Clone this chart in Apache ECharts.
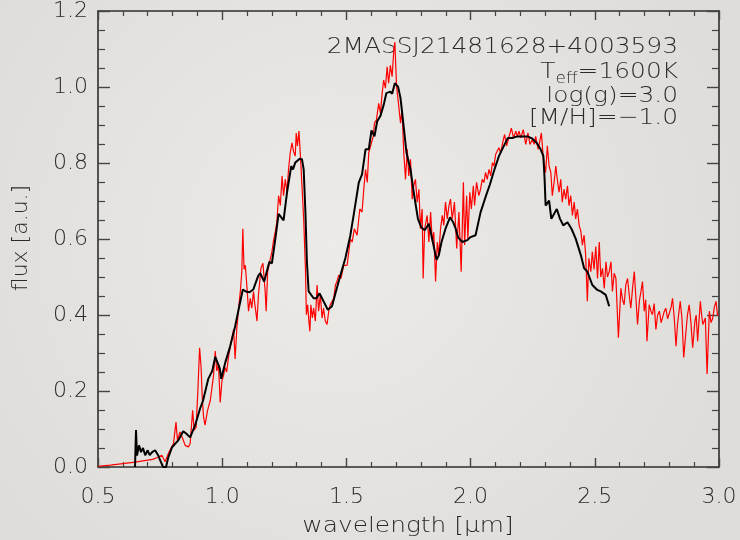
<!DOCTYPE html>
<html>
<head>
<meta charset="utf-8">
<script src="https://cdn.jsdelivr.net/npm/echarts@6/dist/echarts.min.js"></script>
<style>
html,body{margin:0;padding:0;background:#e8e6e3;}
#chart{width:740px;height:540px;}
</style>
</head>
<body>
<div id="chart"></div>
<script>
// ---- data ----
var xTicks = [0.5, 1.0, 1.5, 2.0, 2.5, 3.0];
var yTicks = [0.0, 0.2, 0.4, 0.6, 0.8, 1.0, 1.2];

var modelWave = [0.649,0.653,0.657,0.665,0.673,0.681,0.69,0.7,0.708,0.718,0.73,0.742,0.75,0.762,0.774,0.782,0.798,0.823,0.843,0.855,0.871,0.891,0.911,0.923,0.944,0.96,0.972,0.98,0.99,0.996,1.012,1.032,1.052,1.073,1.083,1.095,1.11,1.125,1.135,1.145,1.153,1.169,1.19,1.2,1.214,1.227,1.24,1.247,1.261,1.278,1.285,1.294,1.312,1.321,1.328,1.335,1.341,1.348,1.368,1.379,1.392,1.408,1.425,1.442,1.456,1.476,1.496,1.516,1.529,1.55,1.563,1.577,1.59,1.601,1.613,1.624,1.637,1.65,1.661,1.677,1.684,1.695,1.708,1.718,1.729,1.742,1.758,1.771,1.788,1.801,1.815,1.832,1.845,1.863,1.872,1.883,1.899,1.917,1.93,1.94,1.949,1.967,1.987,2.0,2.02,2.04,2.06,2.078,2.094,2.114,2.134,2.15,2.168,2.188,2.208,2.229,2.249,2.266,2.282,2.293,2.298,2.302,2.316,2.325,2.347,2.36,2.373,2.39,2.406,2.423,2.444,2.457,2.47,2.49,2.51,2.524,2.544,2.558];
var modelFlux = [0.0,0.097,0.03,0.057,0.039,0.05,0.031,0.044,0.031,0.039,0.044,0.031,0.018,0.0,0.0,0.023,0.052,0.07,0.094,0.088,0.078,0.11,0.154,0.175,0.232,0.253,0.29,0.292,0.26,0.232,0.274,0.318,0.37,0.436,0.467,0.462,0.46,0.467,0.485,0.503,0.51,0.488,0.54,0.536,0.601,0.666,0.655,0.649,0.723,0.792,0.783,0.801,0.811,0.81,0.783,0.67,0.54,0.462,0.444,0.444,0.457,0.436,0.414,0.423,0.457,0.505,0.55,0.61,0.662,0.749,0.77,0.836,0.836,0.886,0.87,0.91,0.924,0.953,0.984,0.988,0.982,1.01,1.001,0.97,0.905,0.827,0.783,0.723,0.653,0.631,0.623,0.64,0.601,0.545,0.557,0.592,0.627,0.657,0.644,0.627,0.605,0.592,0.597,0.605,0.61,0.67,0.71,0.744,0.779,0.818,0.845,0.866,0.866,0.87,0.87,0.87,0.864,0.853,0.836,0.818,0.757,0.688,0.701,0.653,0.679,0.653,0.636,0.644,0.627,0.601,0.557,0.523,0.514,0.479,0.466,0.462,0.453,0.423];

var obsWave = [0.5,0.55,0.6,0.65,0.7,0.72,0.74,0.757,0.77,0.784,0.79,0.804,0.814,0.82,0.83,0.841,0.851,0.864,0.871,0.881,0.887,0.895,0.902,0.909,0.915,0.92,0.925,0.931,0.941,0.952,0.965,0.972,0.978,0.985,0.992,0.999,1.005,1.012,1.018,1.025,1.032,1.039,1.046,1.052,1.059,1.066,1.073,1.079,1.083,1.088,1.093,1.1,1.106,1.113,1.119,1.126,1.131,1.135,1.14,1.146,1.156,1.164,1.173,1.177,1.183,1.191,1.2,1.207,1.214,1.22,1.227,1.234,1.241,1.247,1.254,1.261,1.267,1.274,1.281,1.287,1.294,1.298,1.303,1.309,1.315,1.321,1.328,1.335,1.339,1.344,1.349,1.353,1.357,1.363,1.368,1.375,1.382,1.388,1.395,1.402,1.408,1.415,1.422,1.429,1.435,1.442,1.449,1.456,1.462,1.469,1.478,1.489,1.503,1.516,1.523,1.532,1.543,1.554,1.563,1.57,1.577,1.584,1.59,1.597,1.608,1.613,1.621,1.63,1.637,1.644,1.65,1.657,1.664,1.67,1.677,1.684,1.691,1.695,1.702,1.708,1.718,1.724,1.731,1.738,1.745,1.751,1.758,1.765,1.771,1.778,1.785,1.792,1.798,1.805,1.809,1.815,1.825,1.832,1.839,1.846,1.852,1.859,1.866,1.872,1.879,1.886,1.892,1.899,1.906,1.913,1.919,1.926,1.93,1.935,1.944,1.953,1.962,1.971,1.976,1.984,1.989,1.997,2.003,2.011,2.016,2.024,2.033,2.04,2.047,2.054,2.06,2.067,2.074,2.081,2.088,2.094,2.101,2.108,2.114,2.121,2.132,2.137,2.145,2.155,2.164,2.173,2.182,2.188,2.195,2.202,2.212,2.222,2.231,2.239,2.249,2.256,2.262,2.272,2.28,2.285,2.293,2.302,2.309,2.316,2.323,2.329,2.336,2.343,2.349,2.356,2.363,2.369,2.376,2.383,2.39,2.396,2.403,2.41,2.417,2.423,2.43,2.437,2.444,2.45,2.457,2.463,2.47,2.476,2.484,2.49,2.497,2.504,2.511,2.518,2.524,2.531,2.538,2.545,2.551,2.558,2.565,2.571,2.578,2.585,2.595,2.605,2.612,2.618,2.625,2.632,2.639,2.645,2.652,2.659,2.666,2.672,2.68,2.686,2.692,2.699,2.705,2.71,2.719,2.726,2.732,2.739,2.746,2.753,2.76,2.767,2.773,2.78,2.786,2.793,2.8,2.807,2.813,2.82,2.827,2.833,2.839,2.844,2.851,2.858,2.867,2.873,2.88,2.887,2.894,2.903,2.908,2.914,2.92,2.925,2.93,2.935,2.945,2.952,2.961,2.968,2.975,2.981,2.988,2.994,3.0];
var obsFlux = [0.002,0.005,0.009,0.013,0.018,0.02,0.025,0.031,0.014,0.037,0.04,0.062,0.118,0.07,0.092,0.075,0.057,0.053,0.062,0.149,0.097,0.105,0.2,0.314,0.262,0.18,0.131,0.11,0.149,0.175,0.24,0.305,0.253,0.27,0.17,0.227,0.24,0.262,0.25,0.288,0.314,0.34,0.362,0.284,0.366,0.418,0.462,0.514,0.627,0.52,0.531,0.47,0.41,0.444,0.418,0.462,0.43,0.41,0.384,0.453,0.523,0.536,0.462,0.41,0.514,0.54,0.566,0.597,0.62,0.644,0.714,0.688,0.766,0.714,0.757,0.723,0.783,0.827,0.853,0.831,0.818,0.879,0.845,0.884,0.818,0.823,0.653,0.523,0.401,0.427,0.384,0.357,0.427,0.392,0.418,0.384,0.479,0.41,0.453,0.392,0.418,0.384,0.375,0.41,0.427,0.43,0.444,0.479,0.488,0.505,0.496,0.53,0.531,0.6,0.592,0.627,0.61,0.679,0.671,0.731,0.783,0.749,0.827,0.827,0.87,0.905,0.914,0.957,0.931,0.984,1.018,0.997,1.053,1.01,1.057,1.027,1.097,1.118,1.001,0.966,0.905,0.94,0.827,0.757,0.836,0.766,0.81,0.705,0.74,0.757,0.697,0.731,0.627,0.679,0.496,0.627,0.662,0.592,0.671,0.592,0.618,0.488,0.592,0.557,0.627,0.662,0.636,0.697,0.653,0.688,0.705,0.653,0.671,0.697,0.575,0.671,0.514,0.749,0.584,0.714,0.601,0.723,0.679,0.74,0.688,0.749,0.714,0.731,0.757,0.749,0.775,0.757,0.783,0.766,0.801,0.792,0.823,0.818,0.84,0.827,0.862,0.875,0.845,0.87,0.892,0.866,0.884,0.87,0.884,0.866,0.888,0.849,0.879,0.849,0.862,0.849,0.87,0.836,0.862,0.879,0.81,0.775,0.845,0.792,0.775,0.714,0.749,0.792,0.757,0.723,0.757,0.697,0.731,0.705,0.74,0.688,0.714,0.662,0.697,0.653,0.679,0.636,0.62,0.584,0.61,0.56,0.436,0.549,0.514,0.566,0.52,0.58,0.496,0.592,0.5,0.523,0.47,0.54,0.5,0.514,0.54,0.462,0.51,0.496,0.34,0.47,0.44,0.427,0.48,0.496,0.45,0.418,0.47,0.514,0.44,0.375,0.44,0.462,0.488,0.41,0.44,0.331,0.427,0.41,0.401,0.43,0.362,0.4,0.41,0.38,0.384,0.41,0.418,0.39,0.392,0.42,0.444,0.39,0.318,0.375,0.41,0.436,0.39,0.288,0.357,0.4,0.427,0.38,0.314,0.384,0.4,0.331,0.39,0.436,0.4,0.375,0.392,0.245,0.41,0.38,0.392,0.42,0.436,0.4,0.401];

var objectName = '2MASSJ21481628+4003593';
var paramLines = ['T{s|eff}=1600K', 'log(g)=3.0', '[M/H]=\u22121.0'];
var xTitle = 'wavelength [\u03bcm]';
var yTitle = 'flux [a.u.]';

// ---- chart ----
var FONT = '"DejaVu Sans", sans-serif';
var TXT = '#2a2a2a';
var WIDEN = 1.13;
function pairs(xs, ys){ return xs.map(function(x,i){ return [x, ys[i]]; }); }

function makeX(pos, labels){
  return {
    type:'value', position:pos, min:xTicks[0], max:xTicks[xTicks.length-1], interval:0.5,
    axisLine:{show:true, onZero:false, lineStyle:{color:'#2e2e2e', width:1.6}},
    axisTick:{show:true, inside:true, length:9, lineStyle:{color:'#444', width:1.4}},
    minorTick:{show:true, splitNumber:5, length:5, lineStyle:{color:'#444', width:1.2}},
    splitLine:{show:false},
    axisLabel:{show:labels, margin:19, fontSize:22, fontFamily:FONT, fontWeight:200, color:TXT,
      formatter:function(v){ return v.toFixed(1); }}
  };
}
function makeY(pos, labels){
  return {
    type:'value', position:pos, min:yTicks[0], max:yTicks[yTicks.length-1], interval:0.2,
    axisLine:{show:true, onZero:false, lineStyle:{color:'#2e2e2e', width:1.6}},
    axisTick:{show:true, inside:true, length:12, lineStyle:{color:'#444', width:1.4}},
    minorTick:{show:true, splitNumber:4, length:7, lineStyle:{color:'#444', width:1.2}},
    splitLine:{show:false},
    axisLabel:{show:labels, margin:10, fontSize:22, fontFamily:FONT, fontWeight:200, color:TXT,
      formatter:function(v){ return v.toFixed(1); }}
  };
}

var chart = echarts.init(document.getElementById('chart'), null, {renderer:'canvas'});
var baseStyle = {fontSize:22, fontFamily:FONT, fontWeight:200, fill:TXT};
var graphics = [];
var annoY = [47, 72, 96, 118];
[objectName].concat(paramLines).forEach(function(t, i){
  graphics.push({
    type:'text', x:678, y:annoY[i], silent:true, scaleX:WIDEN,
    style:Object.assign({}, baseStyle, {text:t, align:'right', verticalAlign:'middle',
      rich:{s:{fontSize:15, fontFamily:FONT, fontWeight:200, fill:TXT, padding:[14,0,0,0]}}})
  });
});
graphics.push({
  type:'text', x:408, y:526, silent:true, scaleX:WIDEN,
  style:Object.assign({}, baseStyle, {text:xTitle, align:'center', verticalAlign:'middle'})
});
graphics.push({
  type:'text', x:21, y:238, silent:true, rotation:Math.PI/2, scaleX:1.0,
  style:Object.assign({}, baseStyle, {text:yTitle, align:'center', verticalAlign:'middle'})
});

chart.setOption({
  animation:false,
  backgroundColor:{type:'radial', x:0.45, y:0.45, r:0.75,
    colorStops:[{offset:0, color:'#edebe8'},{offset:1, color:'#dfddd9'}]},
  grid:{left:98, right:21, top:7, bottom:73, containLabel:false},
  xAxis:[makeX('bottom', true), makeX('top', false)],
  yAxis:[makeY('left', true), makeY('right', false)],
  graphic:graphics,
  series:[
    {type:'line', xAxisIndex:0, yAxisIndex:0, data:pairs(obsWave, obsFlux), showSymbol:false,
      lineStyle:{color:'#ff0000', width:1.2}, z:2},
    {type:'line', xAxisIndex:0, yAxisIndex:0, data:pairs(modelWave, modelFlux), showSymbol:false,
      lineStyle:{color:'#000000', width:2}, z:3}
  ]
});
</script>
</body>
</html>
